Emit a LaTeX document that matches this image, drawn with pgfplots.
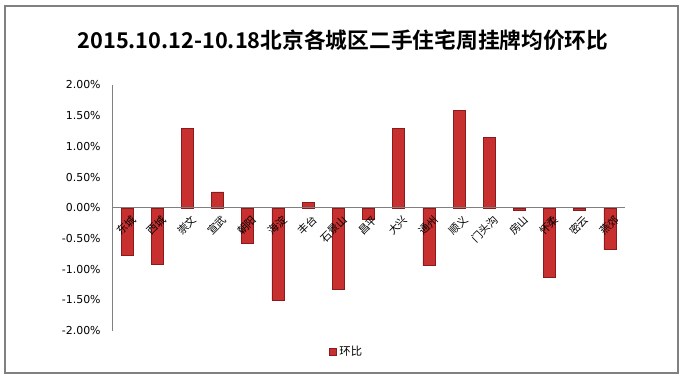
\documentclass[border=0pt]{standalone}
\usepackage{pgfplots}
\pgfplotsset{compat=1.18}
\usepackage{fontspec}
\setmainfont{DejaVu Sans}
\newfontfamily\cjk{Noto Sans CJK SC}
\newfontfamily\cjkb{Noto Sans CJK SC Bold}
\definecolor{barfill}{HTML}{C8302F}
\definecolor{barline}{HTML}{8A1A1C}
\definecolor{framegray}{HTML}{808080}
\begin{document}
\begin{tikzpicture}
\useasboundingbox (0,0) rectangle (514.5pt,285.75pt);
\draw[framegray, line width=0.9pt] (3.75pt,281.25pt) rectangle (508.5pt,6pt);
\node[font=\cjkb\fontsize{16.3}{20}\selectfont] at (257.25pt,255.75pt) {2015.10.12-10.18北京各城区二手住宅周挂牌均价环比};
\begin{axis}[
  at={(84pt,37.7pt)}, anchor=south west,
  scale only axis, width=384.75pt, height=184.3pt,
  xmin=-0.5, xmax=16.5, ymin=-2, ymax=2,
  axis x line=middle, axis y line=left,
  axis line style={-, draw=framegray, line width=0.6pt},
  axis on top,
  hide obscured x ticks=false, hide obscured y ticks=false,
  major tick length=0pt,
  xtick={0,...,16},
  xticklabels={东城,西城,崇文,宣武,朝阳,海淀,丰台,石景山,昌平,大兴,通州,顺义,门头沟,房山,怀柔,密云,燕郊},
  xticklabel style={font=\cjk\fontsize{8}{9}\selectfont, rotate=45, anchor=east, inner sep=0pt, xshift=-1.5pt, yshift=-9pt},
  ytick={-2,-1.5,...,2},
  yticklabel={\pgfmathprintnumber[fixed,fixed zerofill,precision=2]{\tick}\%},
  /pgf/number format/assume math mode=true,
  yticklabel style={font=\fontsize{8.2}{9}\selectfont, xshift=-5pt},
  legend style={at={(0.458,-0.087)}, anchor=center, draw=none, font=\cjk\fontsize{8.5}{10}\selectfont, inner sep=1pt},
  legend image code/.code={\fill[#1] (0pt,-2.6pt) rectangle (5.2pt,2.6pt);},
]
\addplot[ybar, bar width=9pt, draw=barline, line width=0.5pt, fill=barfill]
coordinates {(0,-0.78) (1,-0.92) (2,1.30) (3,0.26) (4,-0.57) (5,-1.50) (6,0.09) (7,-1.33) (8,-0.19) (9,1.30) (10,-0.94) (11,1.58) (12,1.15) (13,-0.04) (14,-1.13) (15,-0.04) (16,-0.68)};
\addlegendentry{环比}
\end{axis}
\end{tikzpicture}
\end{document}
